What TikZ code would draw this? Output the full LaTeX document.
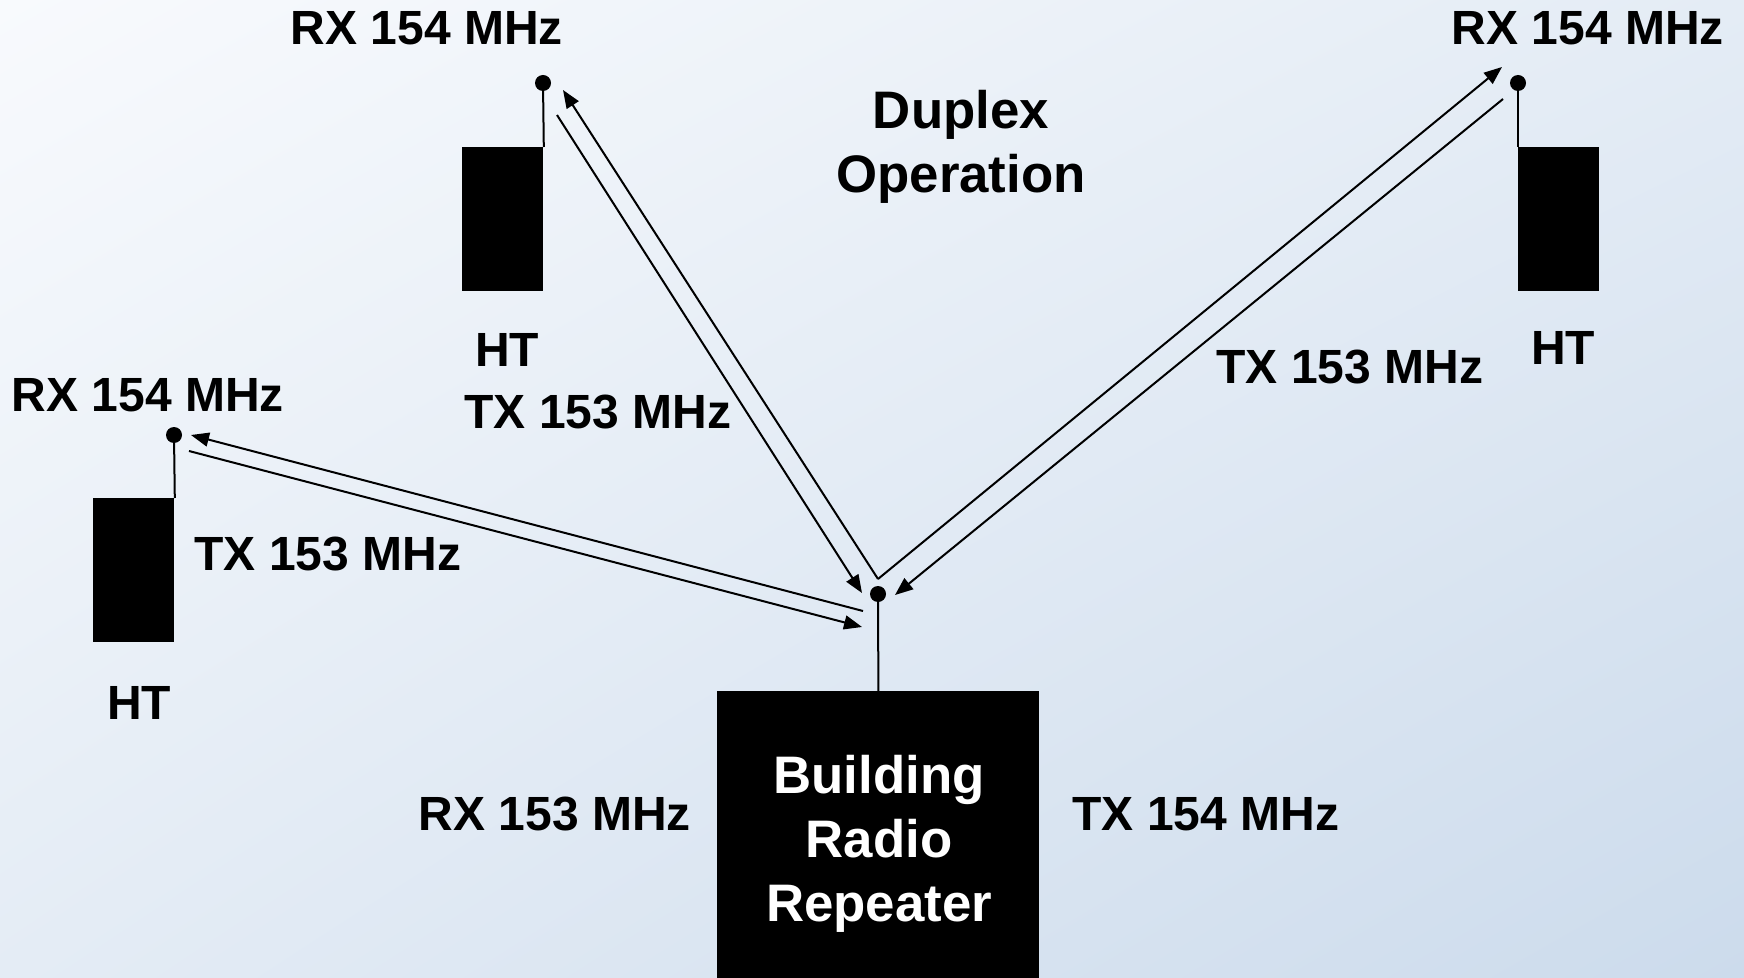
\documentclass[tikz,border=0pt]{standalone}
\usepackage{fontspec}
\setmainfont{Liberation Sans}
\usetikzlibrary{arrows.meta,shadings}
\definecolor{bgUL}{RGB}{248,250,253}
\definecolor{bgUR}{RGB}{228,236,245}
\definecolor{bgLL}{RGB}{228,236,245}
\definecolor{bgLR}{RGB}{204,219,236}
\begin{document}
\begin{tikzpicture}[x=0.5pt,y=-0.5pt,
  lbl/.style={font=\fontsize{24}{29}\selectfont\bfseries, inner sep=0pt},
  big/.style={font=\fontsize{26.4}{32}\selectfont\bfseries, inner sep=0pt, align=center},
  radio/.style={fill=black, draw=none, inner sep=0pt, minimum width=40.5pt, minimum height=72pt, anchor=north west},
  ant/.style={line width=1pt},
  tipdot/.style={circle, fill=black, inner sep=0pt, minimum size=8pt},
  sigar/.style={line width=1pt, -{Triangle[length=9pt,width=7pt]}}
]
\useasboundingbox (0,0) rectangle (1744,978);
\shade[upper left=bgUL, upper right=bgUR, lower left=bgLL, lower right=bgLR]
  (0,0) rectangle (1744,978);

% handheld radios
\node[radio] (htA) at (462,147) {};
\node[radio] (htB) at (1518,147) {};
\node[radio] (htC) at (93,498) {};
\node[tipdot] (dA) at (543,83) {};
\node[tipdot] (dB) at (1518,83) {};
\node[tipdot] (dC) at (174,435) {};
\draw[ant] (htA.north east) -- (dA.center);
\draw[ant] (htB.north west) -- (dB.center);
\draw[ant] (htC.north east) -- (dC.center);

% repeater
\node[fill=black, inner sep=0pt, minimum width=161pt, minimum height=143.5pt, anchor=north west] (rep) at (717,691) {};
\node[big, text=white] (reptext) at (879,844) {Building\\Radio\\Repeater};
\node[tipdot] (d0) at (878,594) {};
\draw[ant] (rep.north) -- (d0.center);

% signal paths
\coordinate (v) at (878,579);
\coordinate (a1s) at (557,115); \coordinate (a1e) at (862,593);
\coordinate (a2e) at (563,90);
\coordinate (b1e) at (1502,67);
\coordinate (b2s) at (1503,99); \coordinate (b2e) at (895,595);
\coordinate (c1s) at (863,611); \coordinate (c1e) at (191,435);
\coordinate (c2s) at (189,451); \coordinate (c2e) at (862,627);
\draw[sigar] (a1s) -- (a1e);
\draw[sigar] (v) -- (a2e);
\draw[sigar] (v) -- (b1e);
\draw[sigar] (b2s) -- (b2e);
\draw[sigar] (c1s) -- (c1e);
\draw[sigar] (c2s) -- (c2e);

% labels
\node[lbl] (rxA) at (427,28) {RX 154 MHz};
\node[lbl] (htAl) at (507,350) {HT};
\node[lbl] (txA) at (598,412) {TX 153 MHz};
\node[lbl] (rxB) at (1588,28) {RX 154 MHz};
\node[lbl] (htBl) at (1563,348) {HT};
\node[lbl] (txB) at (1350,367) {TX 153 MHz};
\node[lbl] (rxC) at (148,395) {RX 154 MHz};
\node[lbl] (txC) at (328,554) {TX 153 MHz};
\node[lbl] (htCl) at (139,703) {HT};
\node[lbl] (rxR) at (555,814) {RX 153 MHz};
\node[lbl] (txR) at (1206,814) {TX 154 MHz};
\node[big] (title) at (961,147) {Duplex\\Operation};
\end{tikzpicture}
\end{document}
